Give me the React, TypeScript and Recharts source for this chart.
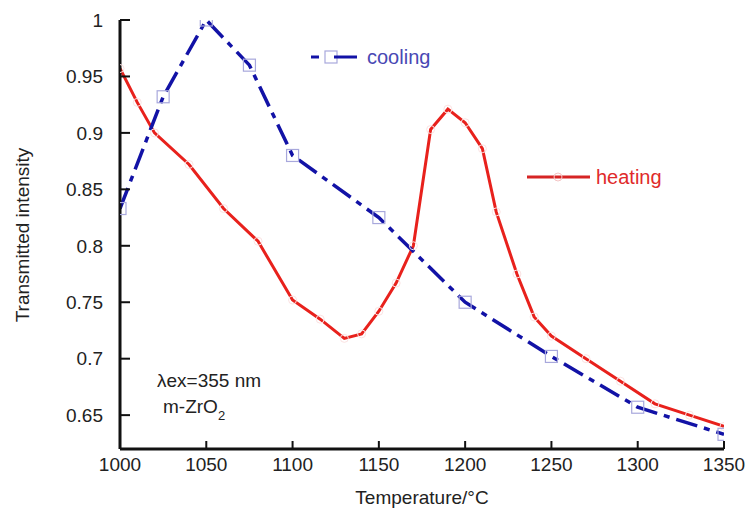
import { LineChart, Line, XAxis, YAxis } from 'recharts'

const xTicks = [1000, 1050, 1100, 1150, 1200, 1250, 1300, 1350]
const yTicks = [0.65, 0.7, 0.75, 0.8, 0.85, 0.9, 0.95, 1]

const coolingT = [1000, 1025, 1050, 1075, 1100, 1150, 1200, 1250, 1300, 1350]
const coolingI = [0.833, 0.932, 1.0, 0.96, 0.88, 0.825, 0.75, 0.702, 0.657, 0.633]

const heatingT = [1000, 1010, 1020, 1040, 1060, 1080, 1100, 1116, 1130, 1140, 1150, 1160, 1170, 1180, 1190, 1200, 1210, 1218, 1230, 1240, 1250, 1270, 1290, 1310, 1330, 1350]
const heatingI = [0.957, 0.927, 0.9, 0.872, 0.833, 0.804, 0.752, 0.735, 0.718, 0.722, 0.742, 0.767, 0.8, 0.903, 0.921, 0.909, 0.886, 0.83, 0.775, 0.737, 0.72, 0.7, 0.68, 0.66, 0.65, 0.64]

const cooling = coolingT.map((t, i) => ({ t, v: coolingI[i] }))
const heating = heatingT.map((t, i) => ({ t, v: heatingI[i] }))

const font = '"Liberation Sans", Arial, sans-serif'
const tickStyle = { fontSize: 19, fill: '#222', fontFamily: font }

export default function App() {
  return (
    <div style={{ position: 'absolute', left: 0, top: 0, width: 755, height: 517, background: '#fff' }}>
      <LineChart width={755} height={517} margin={{ top: 20, right: 31, bottom: 38, left: 60 }}>
        <XAxis
          xAxisId="b"
          type="number"
          dataKey="t"
          domain={[1000, 1350]}
          ticks={xTicks}
          interval={0}
          height={30}
          tickSize={-8}
          tickMargin={17}
          axisLine={{ stroke: '#111', strokeWidth: 3 }}
          tickLine={{ stroke: '#111', strokeWidth: 2 }}
          tick={tickStyle}
          allowDataOverflow
        />
        <XAxis xAxisId="top" orientation="top" type="number" domain={[1000, 1350]} height={0} tick={false} tickLine={false} axisLine={{ stroke: '#111', strokeWidth: 3 }} />
        <YAxis
          yAxisId="l"
          type="number"
          domain={[0.62, 1]}
          ticks={yTicks}
          interval={0}
          width={60}
          tickSize={-10}
          tickMargin={27}
          axisLine={{ stroke: '#111', strokeWidth: 3 }}
          tickLine={{ stroke: '#111', strokeWidth: 2 }}
          tick={tickStyle}
          allowDataOverflow
        />
        <YAxis yAxisId="r" orientation="right" type="number" domain={[0.62, 1]} width={0} tick={false} tickLine={false} axisLine={{ stroke: '#111', strokeWidth: 3 }} />
        <Line
          xAxisId="b"
          yAxisId="l"
          data={heating}
          dataKey="v"
          type="linear"
          stroke="#e8211c"
          strokeWidth={3}
          dot={{ r: 4, stroke: '#fbe2e2', strokeWidth: 1, fill: 'none' }}
          isAnimationActive={false}
        />
        <Line
          xAxisId="b"
          yAxisId="l"
          data={cooling}
          dataKey="v"
          type="linear"
          stroke="#1212a6"
          strokeWidth={3.5}
          strokeDasharray="22 7 6 7"
          dot={(p: any) => (
            <rect key={p.index} x={p.cx - 6} y={p.cy - 6} width={12} height={12} fill="none" stroke="#a8a8dc" strokeWidth={1.2} />
          )}
          isAnimationActive={false}
        />
      </LineChart>
      <svg width={755} height={517} style={{ position: 'absolute', left: 0, top: 0, pointerEvents: 'none' }} fontFamily={font}>
        <text x={422} y={504} textAnchor="middle" fontSize={19} fill="#222">Temperature/°C</text>
        <text transform="translate(29,235) rotate(-90)" textAnchor="middle" fontSize={19} fill="#222">Transmitted intensity</text>
        <line x1={311} y1={57} x2={319} y2={57} stroke="#1212a6" strokeWidth={3} />
        <rect x={325} y={51} width={12} height={12} fill="none" stroke="#a8a8dc" strokeWidth={1.2} />
        <line x1={334} y1={57} x2={357} y2={57} stroke="#1212a6" strokeWidth={3} />
        <text x={367} y={64} fontSize={20} fill="#4848b4">cooling</text>
        <line x1={527} y1={177} x2={590} y2={177} stroke="#d62424" strokeWidth={3} />
        <circle cx={558} cy={177} r={4} fill="none" stroke="#f4c4c4" strokeWidth={1} />
        <text x={596} y={184} fontSize={20} fill="#e02a2a">heating</text>
        <text x={157} y={387} fontSize={19} fill="#222">λex=355 nm</text>
        <text x={163} y={413} fontSize={19} fill="#222">m-ZrO<tspan fontSize={13} dy={7}>2</tspan></text>
      </svg>
    </div>
  )
}
